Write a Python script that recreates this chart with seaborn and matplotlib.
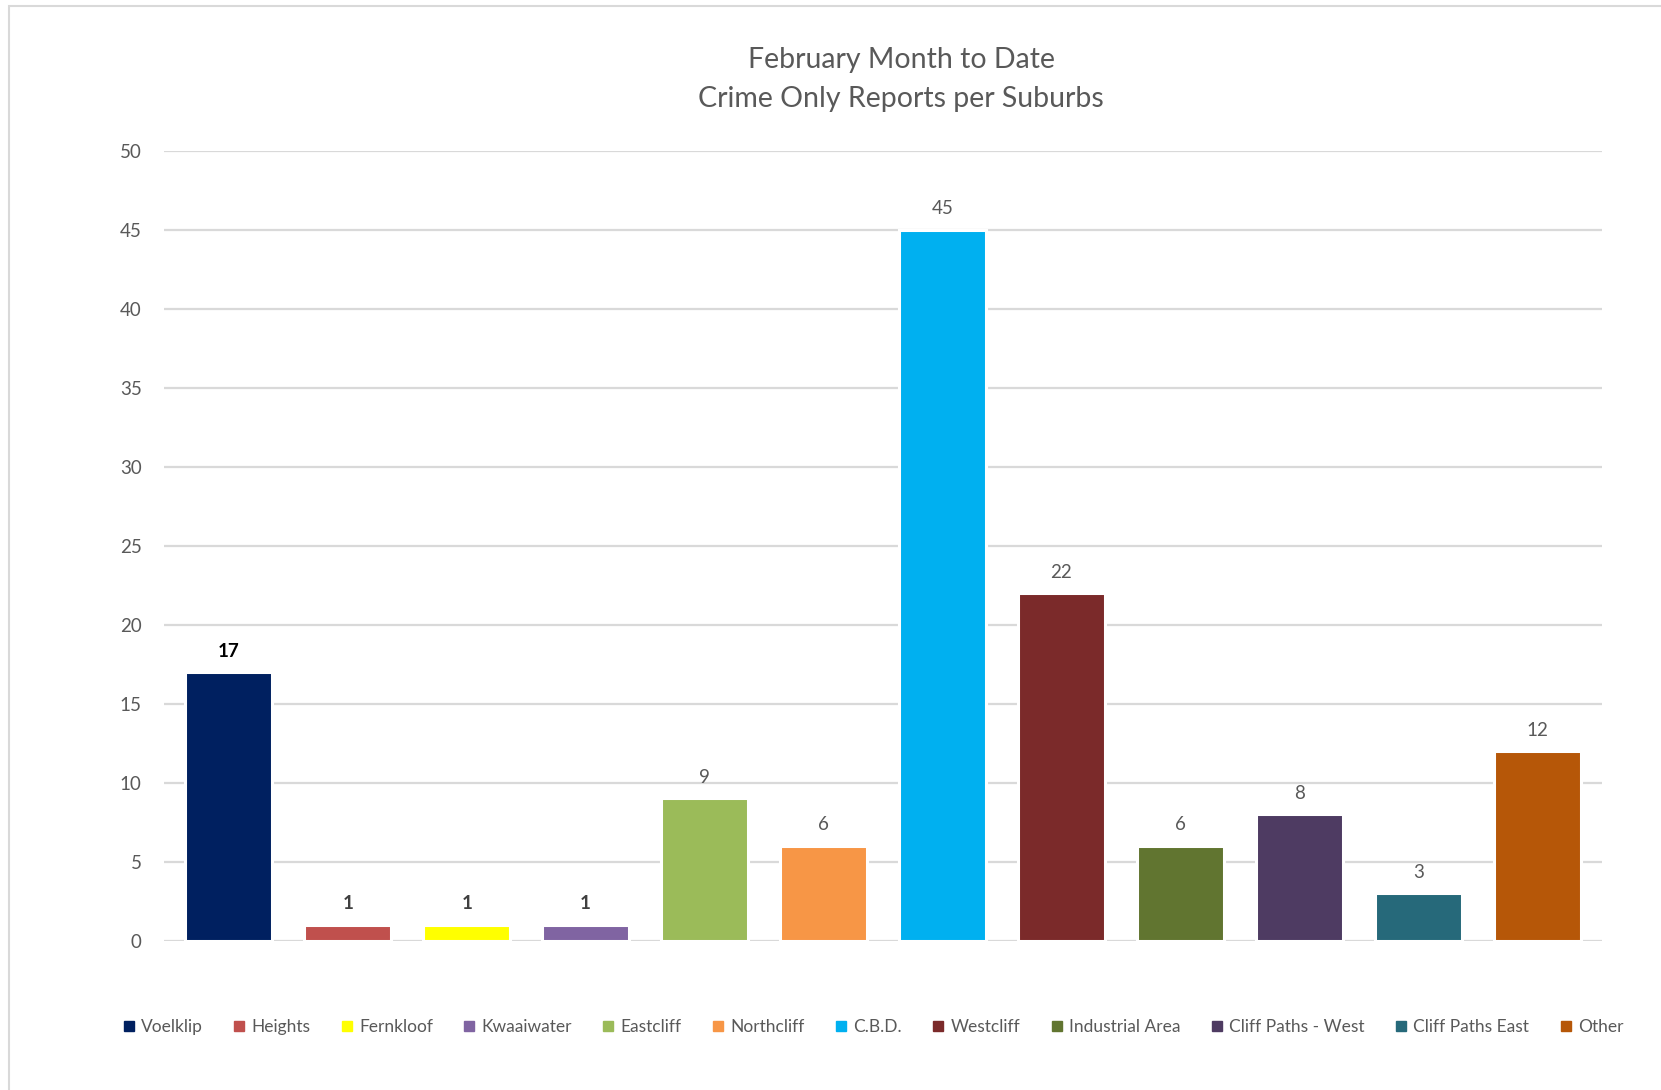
import numpy as np
import pandas as pd
import matplotlib.pyplot as plt
import seaborn as sns
from matplotlib.lines import Line2D
from matplotlib.patches import Rectangle

suburbs = ['Voelklip', 'Heights', 'Fernkloof', 'Kwaaiwater', 'Eastcliff', 'Northcliff',
           'C.B.D.', 'Westcliff', 'Industrial Area', 'Cliff Paths - West',
           'Cliff Paths East', 'Other']
reports = [17, 1, 1, 1, 9, 6, 45, 22, 6, 8, 3, 12]
colours = ['#002060', '#C0504D', '#FFFF00', '#8064A2', '#9BBB59', '#F79646',
           '#00B0F0', '#7B2A2A', '#617530', '#4E3B62', '#26697A', '#B65708']
yticks = [0, 5, 10, 15, 20, 25, 30, 35, 40, 45, 50]

df = pd.DataFrame({'Suburb': suburbs, 'Reports': reports})

sns.set_style('white')
plt.rcParams['font.family'] = ['Lato', 'DejaVu Sans']

fig = plt.figure(figsize=(16.61, 10.90), dpi=100)
ax = fig.add_axes([164 / 1661, 1 - 940.6 / 1090, (1602 - 164) / 1661, (940.6 - 150.5) / 1090])

sns.barplot(data=df, x='Suburb', y='Reports', hue='Suburb', palette=colours,
            saturation=1, width=0.73, legend=False, ax=ax,
            edgecolor='white', linewidth=2.2, zorder=3)

ax.set_ylim(0, 50)
ax.set_xlim(-0.545, len(suburbs) - 0.455)
ax.set_yticks(yticks)
ax.yaxis.grid(True, color='#D9D9D9', linewidth=1.6, zorder=0)
ax.set_axisbelow(True)
ax.tick_params(axis='y', length=0, pad=16, labelsize=13.5, labelcolor='#595959')
ax.set_xticks([])
ax.set_xlabel('')
ax.set_ylabel('')
for s in ax.spines.values():
    s.set_visible(False)

# data labels
for i, v in enumerate(reports):
    if v == 17:
        kw = dict(color='black', fontweight='bold')
    elif v == 1:
        kw = dict(color='#404040', fontweight='bold')
    else:
        kw = dict(color='#595959')
    ax.annotate(str(v), (i, v), xytext=(0, 15), textcoords='offset points',
                ha='center', va='center', fontsize=13.5, **kw)

fig.text(901 / 1661, 1 - 60 / 1090, 'February Month to Date', ha='center', va='center',
         fontsize=20.5, color='#595959')
fig.text(901 / 1661, 1 - 99 / 1090, 'Crime Only Reports per Suburbs', ha='center', va='center',
         fontsize=20.5, color='#595959')

handles = [Line2D([0], [0], marker='s', linestyle='none', markersize=6.5,
                  markerfacecolor=c, markeredgecolor=c) for c in colours]
fig.legend(handles, suburbs, loc='center', bbox_to_anchor=(872 / 1661, 1 - 1027 / 1090),
           ncol=12, frameon=False, fontsize=12.5, labelcolor='#595959',
           handletextpad=0.25, columnspacing=1.65, handlelength=0.9)

# chart border
fig.patches.append(Rectangle((9 / 1661, -0.01), 1.1, 1 - 6 / 1090 + 0.01,
                             transform=fig.transFigure, fill=False,
                             edgecolor='#D9D9D9', linewidth=1.5))

fig.savefig('out.png', dpi=100)
